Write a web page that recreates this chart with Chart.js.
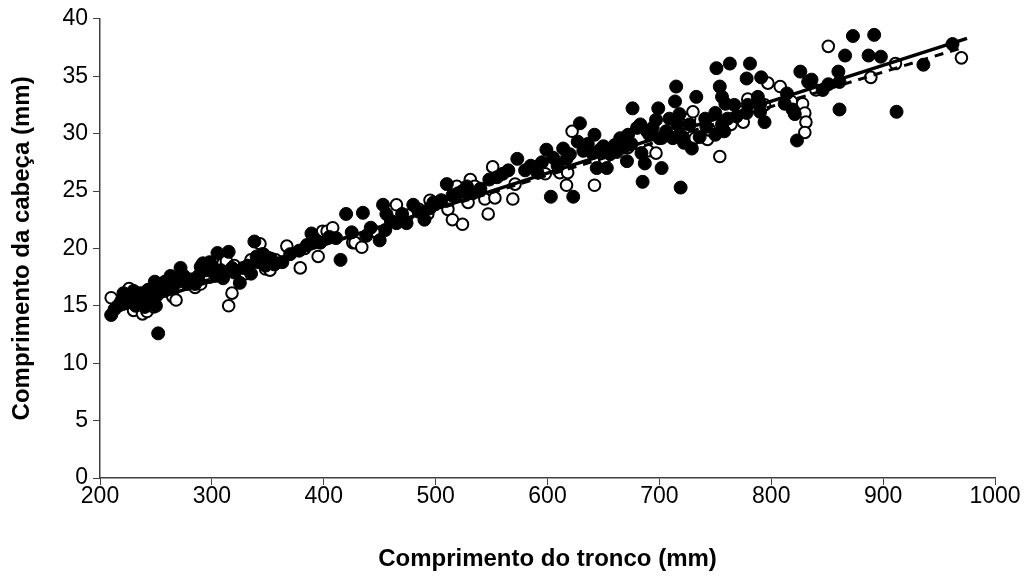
<!DOCTYPE html>
<html>
<head>
<meta charset="utf-8">
<script src="https://cdn.jsdelivr.net/npm/chart.js@4/dist/chart.umd.min.js"></script>
<style>
  html, body { margin: 0; padding: 0; background: #fff; }
  #wrap { width: 1027px; height: 576px; }
</style>
</head>
<body>
<div id="wrap"><canvas id="chart" width="1027" height="576"></canvas></div>
<script>
// tick values
const xTicks = [200, 300, 400, 500, 600, 700, 800, 900, 1000];
const yTicks = [0, 5, 10, 15, 20, 25, 30, 35, 40];

// filled circles: [tronco, cabeça]
const filledPoints = [
    [210,14.2],[213,14.7],[216,15.0],[219,15.4],[221,16.1],[224,15.3],[227,15.9],[230,16.3],[232,15.0],[234,15.6],
    [236,16.1],[238,15.3],[240,14.9],[242,15.8],[243,16.4],[245,15.2],[246,16.2],[248,15.6],[249,17.1],[250,15.0],
    [252,16.6],[252,12.6],[255,16.9],[257,16.3],[258,17.1],[260,16.6],
    [263,17.6],[265,16.6],[268,17.3],[270,17.1],[272,18.3],[275,17.6],[278,16.9],[282,17.3],[285,16.9],[288,17.6],
    [290,18.4],[292,18.7],[295,18.1],[298,18.8],[300,18.3],[303,17.6],[305,19.6],[308,18.1],[310,17.4],[312,17.9],
    [315,19.7],[318,18.3],[320,17.9],
    [325,17.0],[328,18.3],[332,18.5],[335,17.8],[338,20.6],[340,19.3],[342,18.8],[345,19.5],[348,18.5],[350,19.2],
    [353,19.1],[356,18.6],[363,18.8],[370,19.5],[378,19.8],[385,20.3],[389,21.3],[392,20.8],[397,20.5],
    [405,21.0],[411,20.9],[415,19.0],[420,23.0],[425,21.4],[435,23.1],[438,21.1],[442,21.8],[450,20.7],[453,23.8],
    [455,21.6],[456,23.0],[460,22.4],[465,22.2],[470,23.0],[474,22.2],[480,23.8],[485,23.2],[490,22.5],[495,23.5],
    [498,24.0],
    [505,24.2],[510,25.6],[515,24.6],[520,24.8],[524,25.0],[528,25.4],[533,24.8],[540,25.2],[548,26.0],[555,26.2],
    [560,26.5],[565,26.8],[573,27.8],[580,26.8],[585,27.2],[591,26.6],[595,27.5],[599,28.6],
    [603,24.5],[605,27.9],[609,27.2],[614,28.7],[617,27.8],[620,28.2],[623,24.5],[627,29.3],[629,30.9],[632,28.5],
    [636,29.1],[640,28.3],[642,29.9],[644,27.0],[647,28.6],[650,28.9],[653,27.0],[656,28.2],[660,29.0],[662,28.4],
    [665,29.6],[668,28.8],[671,27.6],[672,29.9],[675,29.1],[676,32.2],[680,30.5],[683,30.8],[684,28.3],[685,25.8],
    [687,27.4],[689,30.2],[691,29.9],[694,30.5],[697,31.2],[699,32.2],[700,29.6],[702,27.0],
    [706,30.2],[709,31.3],[712,29.6],[714,32.8],[715,34.1],[716,30.8],[718,31.7],[719,25.3],[721,29.7],[722,29.2],
    [727,30.8],[729,28.7],[733,33.2],[736,29.7],[741,31.3],[742,30.6],[750,31.8],[750,29.9],[751,35.7],[754,34.1],
    [756,33.2],[756,30.8],[758,30.2],[759,32.6],[761,31.3],[763,36.1],[767,32.5],[769,31.5],[778,34.8],[779,32.5],
    [778,31.8],[781,36.1],[788,33.2],[790,31.9],[790,32.6],[791,34.9],[794,31.0],
    [812,32.6],[814,33.5],[819,32.1],[821,31.7],[823,29.4],[826,35.4],[833,34.5],[836,34.7],[846,33.8],[851,34.3],
    [860,35.4],[861,34.5],[861,32.1],[866,36.8],[873,38.5],[892,38.6],[887,36.8],[898,36.7],[912,31.9],[936,36.0],
    [962,37.8]
];

// open circles: [tronco, cabeça]
const openPoints = [
    [210,15.7],[222,15.4],[226,16.5],[230,14.6],[235,15.0],[238,14.3],[240,15.8],[242,14.5],[245,16.4],[248,14.9],
    [251,15.9],[255,16.4],
    [265,15.8],[268,15.5],[275,17.2],[285,16.6],[290,16.9],[298,17.5],[300,18.5],[305,18.2],[310,18.7],[313,18.9],
    [315,15.0],[318,16.1],[320,18.5],
    [323,18.0],[330,17.8],[335,19.0],[343,20.4],[346,19.5],[348,18.2],[352,18.1],[357,19.0],[367,20.2],[379,18.3],
    [383,20.0],[395,19.3],[399,21.5],
    [403,21.5],[408,21.8],[426,20.5],[428,20.5],[434,20.1],[445,21.5],[465,23.8],[475,22.9],[485,23.4],[493,23.0],
    [495,24.2],
    [511,23.4],[515,22.5],[519,25.4],[524,22.1],[529,24.0],[531,26.0],[535,25.4],[544,24.3],[547,23.0],[551,27.1],
    [553,24.4],[569,24.3],[571,25.6],[590,27.1],[598,26.5],
    [611,26.6],[617,25.5],[618,26.6],[622,30.2],[642,25.5],[651,27.8],[660,28.5],[672,28.8],[690,28.5],[697,28.3],
    [702,29.6],
    [727,31.3],[729,29.7],[730,31.9],[732,29.6],[743,29.5],[745,30.3],[754,28.0],[764,30.8],[775,31.0],[779,33.0],
    [794,32.5],[797,34.4],[808,34.1],
    [818,32.8],[828,32.6],[830,31.8],[831,31.0],[830,30.1],[840,33.8],[851,37.6],[889,34.9],[911,36.1],[970,36.6]
];

// fitted lines (end points)
const filledFit = [[208, 14.3], [975, 38.3]];
const openFit = [[208, 14.6], [968, 37.4]];

const toXY = arr => arr.map(([x, y]) => ({ x, y }));

const tickFont = { family: "'Liberation Sans', Arial, sans-serif", size: 23 };
const titleFont = { family: "'Liberation Sans', Arial, sans-serif", size: 24, weight: 'bold' };

new Chart(document.getElementById('chart'), {
    type: 'scatter',
    data: {
        datasets: [
            {
                label: 'filledFit',
                data: toXY(filledFit),
                showLine: true,
                borderColor: '#000',
                borderWidth: 3.5,
                pointRadius: 0,
                order: 0
            },
            {
                label: 'openFit',
                data: toXY(openFit),
                showLine: true,
                borderColor: '#000',
                borderWidth: 3,
                borderDash: [9, 7],
                pointRadius: 0,
                order: 1
            },
            {
                label: 'filled',
                data: toXY(filledPoints),
                pointRadius: 6.5,
                pointBackgroundColor: '#000',
                pointBorderColor: '#000',
                pointBorderWidth: 1,
                order: 2
            },
            {
                label: 'open',
                data: toXY(openPoints),
                pointRadius: 5.8,
                pointBackgroundColor: '#fff',
                pointBorderColor: '#000',
                pointBorderWidth: 2,
                order: 3
            }
        ]
    },
    options: {
        responsive: false,
        animation: false,
        layout: { padding: { top: 17, right: 32, bottom: 0, left: 0 } },
        plugins: { legend: { display: false }, tooltip: { enabled: false } },
        scales: {
            x: {
                type: 'linear',
                min: 200,
                max: 1000,
                afterBuildTicks: s => { s.ticks = xTicks.map(v => ({ value: v })); },
                afterFit: s => { s.height = 98; },
                grid: { drawOnChartArea: false, drawTicks: true, tickLength: 7, color: '#404040' },
                border: { display: true, color: '#404040', width: 1.5 },
                ticks: { color: '#000', font: tickFont, padding: -2, maxRotation: 0, callback: v => String(v) },
                title: { display: true, text: 'Comprimento do tronco (mm)', color: '#000', font: titleFont, padding: { top: 0, bottom: 2 } }
            },
            y: {
                min: 0,
                max: 40,
                afterBuildTicks: s => { s.ticks = yTicks.map(v => ({ value: v })); },
                afterFit: s => { s.width = 100; },
                grid: { drawOnChartArea: false, drawTicks: true, tickLength: 7, color: '#404040' },
                border: { display: true, color: '#404040', width: 1.5 },
                ticks: { color: '#000', font: tickFont, padding: 5, callback: v => String(v) },
                title: { display: true, text: 'Comprimento da cabeça (mm)', color: '#000', font: titleFont, padding: { top: 8, bottom: 0 } }
            }
        }
    }
});
</script>
</body>
</html>
